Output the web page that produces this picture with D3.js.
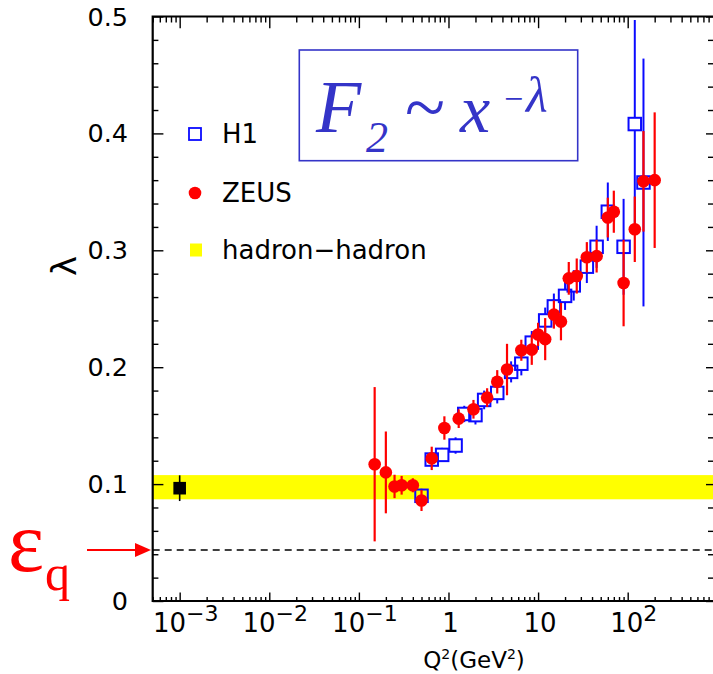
<!DOCTYPE html>
<html><head><meta charset="utf-8">
<script src="https://cdn.jsdelivr.net/npm/d3@7"></script>
<style>body{margin:0;background:#fff}</style>
</head><body><svg id="c" width="713" height="674"></svg>
<script>
// ---- data ----
const h1Q2     = [0.5, 0.65, 0.85, 1.2, 1.5, 2, 2.5, 3.5, 5, 6.5, 8.5, 12, 15, 20, 25, 35, 45, 60, 90, 120, 150];
const h1Lambda = [0.090, 0.121, 0.125, 0.133, 0.160, 0.159, 0.172, 0.178, 0.196, 0.203, 0.221, 0.240, 0.252, 0.261, 0.270, 0.286, 0.303, 0.333, 0.303, 0.408, 0.358];
const h1Err    = [0.006, 0.006, 0.006, 0.007, 0.007, 0.008, 0.008, 0.009, 0.009, 0.010, 0.010, 0.011, 0.011, 0.012, 0.013, 0.014, 0.018, 0.025, 0.041, 0.089, 0.106];

const zeusQ2     = [0.15, 0.2, 0.25, 0.3, 0.4, 0.5, 0.65, 0.9, 1.3, 1.9, 2.7, 3.5, 4.5, 6.5, 8.5, 10, 12, 15, 18, 22, 27, 35, 45, 60, 70, 90, 120, 150, 200];
const zeusLambda = [0.117, 0.110, 0.098, 0.099, 0.099, 0.086, 0.122, 0.148, 0.156, 0.164, 0.174, 0.1875, 0.198, 0.2145, 0.215, 0.228, 0.224, 0.245, 0.239, 0.276, 0.278, 0.294, 0.295, 0.328, 0.333, 0.272, 0.318, 0.359, 0.360];
const zeusErr    = [0.066, 0.035, 0.010, 0.008, 0.006, 0.009, 0.010, 0.010, 0.008, 0.008, 0.008, 0.010, 0.022, 0.009, 0.013, 0.010, 0.018, 0.012, 0.016, 0.014, 0.015, 0.013, 0.014, 0.017, 0.018, 0.037, 0.028, 0.043, 0.058];

const hadronQ2 = [0.001];
const hadronLambda = [0.0965];
const hadronErr = [0.011];
const hadronBand = [0.087, 0.1077];
const epsilonQ = 0.0436;

const xMajorTicks = [1e-3, 1e-2, 1e-1, 1, 10, 100];
const xTickLabels = [["10","\u22123"],["10","\u22122"],["10","\u22121"],["1",""],["10",""],["10","2"]];
const yMajorTicks = [0, 0.1, 0.2, 0.3, 0.4, 0.5];
const yTickLabels = ["0","0.1","0.2","0.3","0.4","0.5"];
const legendLabels = ["H1","ZEUS","hadron\u2212hadron"];

// ---- layout ----
const L = 152.7, R = 714, B = 601;
const x = d3.scaleLog().domain([5e-4, 1000]).range([152.7, 717.3]);
const y = d3.scaleLinear().domain([0, 0.5]).range([601, 16.5]);
const T = y(0.5);
const svg = d3.select("#c");
const BLUE = "#0a0aff", RED = "#ff0000", FBLUE = "#3434c8";
const FONT = "DejaVu Sans";

// band
svg.append("rect").attr("x", L).attr("width", R - L)
  .attr("y", y(hadronBand[1])).attr("height", y(hadronBand[0]) - y(hadronBand[1]))
  .attr("fill", "#ffff00");
// dashed epsilon line
svg.append("line").attr("x1", L).attr("x2", R).attr("y1", y(epsilonQ)).attr("y2", y(epsilonQ))
  .attr("stroke", "#000").attr("stroke-width", 1.6).attr("stroke-dasharray", "7,5");

// minor ticks
const xMinor = [];
for (let e = -4; e <= 2; e++) for (let m = 2; m <= 9; m++) {
  const v = m * Math.pow(10, e);
  if (v >= 5e-4 && v <= 1000) xMinor.push(v);
}
const yMinor = d3.range(0, 0.5001, 0.02).filter(v => Math.abs(v * 10 - Math.round(v * 10)) > 1e-6);

function ax(gen, tr, vals, size) {
  const g = svg.append("g").attr("transform", tr)
    .call(gen.tickValues(vals).tickSize(size).tickSizeOuter(0).tickFormat(""));
  g.select(".domain").remove();
  g.selectAll("line").attr("stroke", "#000").attr("stroke-width", 1.4);
}
ax(d3.axisTop(x), `translate(0,${B})`, xMajorTicks, 8.5);
ax(d3.axisTop(x), `translate(0,${B})`, xMinor, 4);
ax(d3.axisBottom(x), `translate(0,${T})`, xMajorTicks, 11.7);
ax(d3.axisBottom(x), `translate(0,${T})`, xMinor, 6);
ax(d3.axisRight(y), `translate(${L},0)`, yMajorTicks, 10.7);
ax(d3.axisRight(y), `translate(${L},0)`, yMinor, 5.7);
ax(d3.axisLeft(y), `translate(${R},0)`, yMajorTicks, 8);
ax(d3.axisLeft(y), `translate(${R},0)`, yMinor, 6);

// frame
svg.append("path").attr("d", `M${R},${T}H${L}V${B}H${R}`)
  .attr("fill", "none").attr("stroke", "#000").attr("stroke-width", 2.2);

// y labels
svg.append("g").selectAll("text").data(yMajorTicks).join("text")
  .attr("x", 128).attr("y", d => y(d) + 9).attr("text-anchor", "end")
  .attr("font-family", FONT).attr("font-size", 25.5).text((d, i) => yTickLabels[i]);

// x labels
xMajorTicks.forEach((v, i) => {
  const [base, sup] = xTickLabels[i];
  const t = svg.append("text").attr("x", x(v) + (sup ? 6 : 2)).attr("y", 631.7)
    .attr("text-anchor", "middle").attr("font-family", FONT).attr("font-size", 26);
  t.append("tspan").text(base);
  if (sup) t.append("tspan").attr("dy", -11).attr("font-size", 22).text(sup);
});

// axis titles
const xt = svg.append("text").attr("x", 474).attr("y", 668).attr("text-anchor", "middle")
  .attr("font-family", FONT).attr("font-size", 23);
xt.append("tspan").text("Q");
xt.append("tspan").attr("dy", -9).attr("font-size", 14).text("2");
xt.append("tspan").attr("dy", 9).text("(GeV");
xt.append("tspan").attr("dy", -9).attr("font-size", 14).text("2");
xt.append("tspan").attr("dy", 9).text(")");

svg.append("text").attr("transform", "translate(76,266) rotate(-90)")
  .attr("text-anchor", "middle").attr("font-family", FONT).attr("font-size", 34).text("\u03bb");

// epsilon_q + arrow
svg.append("text").attr("x", 8).attr("y", 571).attr("fill", RED)
  .attr("font-family", "Liberation Serif").attr("font-size", 86).text("\u03b5");
svg.append("text").attr("x", 45).attr("y", 590).attr("fill", RED)
  .attr("font-family", "Liberation Serif").attr("font-size", 50).text("q");
svg.append("line").attr("x1", 87).attr("x2", 137).attr("y1", y(epsilonQ)).attr("y2", y(epsilonQ))
  .attr("stroke", RED).attr("stroke-width", 2);
svg.append("path").attr("d", `M135,${y(epsilonQ)-7}L151,${y(epsilonQ)}L135,${y(epsilonQ)+7}Z`).attr("fill", RED);

// formula box
svg.append("rect").attr("x", 299.3).attr("y", 50).attr("width", 278.4).attr("height", 110.7)
  .attr("fill", "none").attr("stroke", FBLUE).attr("stroke-width", 1.6);
const ff = (tx, ty, sz, s, it = true) => svg.append("text").attr("x", tx).attr("y", ty)
  .attr("font-family", "Liberation Serif").attr("font-style", it ? "italic" : "normal")
  .attr("font-size", sz).attr("fill", FBLUE).text(s);
ff(316, 131.7, 74, "F");
ff(366, 152, 44, "2");
ff(405, 131.7, 74, "~", false);
ff(460, 131.7, 68, "x");
ff(504, 110, 34, "\u2212", false);
ff(526, 112, 50, "\u03bb");

// hadron-hadron point
hadronQ2.forEach((q, i) => {
  svg.append("line").attr("x1", x(q)).attr("x2", x(q))
    .attr("y1", y(hadronLambda[i] + hadronErr[i])).attr("y2", y(hadronLambda[i] - hadronErr[i]))
    .attr("stroke", "#000").attr("stroke-width", 1.6);
  svg.append("rect").attr("x", x(q) - 6.3).attr("y", y(hadronLambda[i]) - 6.3)
    .attr("width", 12.6).attr("height", 12.6).attr("fill", "#000");
});

// H1
const S = 12.5, hs = S / 2;
const h1 = svg.append("g");
h1Q2.forEach((q, i) => {
  const cx = x(q), cy = y(h1Lambda[i]);
  const top = y(h1Lambda[i] + h1Err[i]), bot = y(h1Lambda[i] - h1Err[i]);
  if (top < cy - hs) h1.append("line").attr("x1", cx).attr("x2", cx).attr("y1", top).attr("y2", cy - hs)
    .attr("stroke", BLUE).attr("stroke-width", 2);
  if (bot > cy + hs) h1.append("line").attr("x1", cx).attr("x2", cx).attr("y1", cy + hs).attr("y2", bot)
    .attr("stroke", BLUE).attr("stroke-width", 2);
  h1.append("rect").attr("x", cx - hs).attr("y", cy - hs).attr("width", S).attr("height", S)
    .attr("fill", "none").attr("stroke", BLUE).attr("stroke-width", 2);
});

// ZEUS
const z = svg.append("g");
zeusQ2.forEach((q, i) => {
  const cx = x(q), cy = y(zeusLambda[i]);
  z.append("line").attr("x1", cx).attr("x2", cx)
    .attr("y1", y(zeusLambda[i] + zeusErr[i])).attr("y2", y(zeusLambda[i] - zeusErr[i]))
    .attr("stroke", RED).attr("stroke-width", 2.2);
  z.append("circle").attr("cx", cx).attr("cy", cy).attr("r", 6.3).attr("fill", RED);
});

// legend
svg.append("rect").attr("x", 189).attr("y", 128).attr("width", 12).attr("height", 12)
  .attr("fill", "none").attr("stroke", BLUE).attr("stroke-width", 1.8);
svg.append("circle").attr("cx", 195).attr("cy", 193).attr("r", 6.3).attr("fill", RED);
svg.append("rect").attr("x", 190).attr("y", 243.5).attr("width", 12).attr("height", 13).attr("fill", "#ffff00");
[143, 202, 259].forEach((ty, i) => svg.append("text").attr("x", 222).attr("y", ty)
  .attr("font-family", FONT).attr("font-size", 26).text(legendLabels[i]));
</script></body></html>
